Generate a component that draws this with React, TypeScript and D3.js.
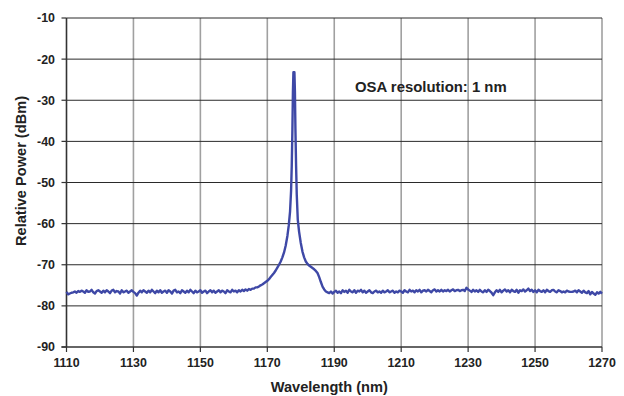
import React from "react";
import * as d3 from "d3";

const xTicks = [1110, 1130, 1150, 1170, 1190, 1210, 1230, 1250, 1270];
const yTicks = [-10, -20, -30, -40, -50, -60, -70, -80, -90];

// baseline left of the peak: 1110 .. 1167 nm, 0.5 nm step
const leftStart = 1110;
const leftBaseline = [
  -76.6, -77.2, -77.0, -76.8, -76.7, -76.5, -76.8, -76.4, -76.6, -76.3,
  -76.5, -76.8, -76.2, -76.6, -76.5, -76.1, -76.7, -77.0, -76.4, -76.2,
  -76.5, -76.8, -76.3, -76.7, -76.2, -76.5, -76.9, -76.3, -76.1, -76.7,
  -76.4, -76.5, -77.0, -76.2, -76.7, -76.5, -76.3, -76.8, -76.5, -76.2,
  -76.6, -76.9, -77.5, -76.8, -76.3, -76.7, -76.2, -76.5, -76.8, -76.3,
  -76.7, -76.1, -76.5, -76.9, -76.3, -76.7, -76.2, -76.8, -76.5, -76.3,
  -76.8, -76.2, -76.5, -77.0, -76.3, -76.1, -76.7, -76.5, -76.9, -76.2,
  -76.5, -76.8, -76.3, -76.7, -76.1, -76.5, -76.9, -76.3, -76.7, -76.5,
  -76.2, -76.8, -76.5, -76.3, -76.9, -76.5, -76.2, -76.7, -76.3, -76.8,
  -76.5, -76.2, -76.7, -76.3, -76.5, -76.9, -76.2, -76.5, -76.7, -76.1,
  -76.5, -76.3, -76.7, -76.2, -76.5, -76.1, -76.4, -76.0, -76.3, -75.9,
  -76.1, -75.8, -75.8, -75.5, -75.5,
];

// peak region [wavelength nm, dBm]
const peakPoints: [number, number][] = [
  [1167.5, -75.3], [1168, -75.0], [1168.5, -74.8], [1169, -74.5], [1169.5, -74.2],
  [1170, -73.9], [1170.5, -73.5], [1171, -73.0], [1171.5, -72.5], [1172, -72.0],
  [1172.5, -71.4], [1173, -70.7], [1173.5, -70.0], [1174, -69.2], [1174.5, -68.2],
  [1175, -67.0], [1175.5, -65.3], [1176, -63.0], [1176.4, -60.5], [1176.8, -57.0],
  [1177.1, -52.0], [1177.3, -46.0], [1177.5, -37.0], [1177.65, -28.0], [1177.8, -23.2],
  [1178.1, -23.2], [1178.25, -28.0], [1178.4, -37.0], [1178.6, -46.0], [1178.8, -53.0],
  [1179.1, -59.0], [1179.5, -62.0], [1180, -64.7], [1180.5, -66.8], [1181, -68.2],
  [1181.5, -69.2], [1182, -69.8], [1182.5, -70.2], [1183, -70.5], [1183.5, -70.8],
  [1184, -71.1], [1184.5, -71.5], [1185, -72.0], [1185.5, -73.0], [1186, -74.2],
  [1186.5, -75.3], [1187, -76.0], [1187.5, -76.5], [1188, -76.7],
];

// baseline right of the peak: 1188.5 .. 1270 nm, 0.5 nm step
const rightStart = 1188.5;
const rightBaseline = [
  -76.9, -76.5, -77.0, -76.6, -76.3, -76.8, -76.5, -76.9, -76.2, -76.6,
  -76.3, -76.8, -76.1, -76.5, -76.7, -76.2, -76.8, -76.3, -76.5, -76.1,
  -76.7, -76.3, -76.8, -76.5, -76.2, -76.7, -76.9, -76.5, -76.3, -76.7,
  -76.5, -76.8, -76.3, -76.7, -76.5, -76.2, -76.7, -76.5, -76.3, -76.8,
  -76.5, -76.7, -76.3, -76.5, -76.8, -76.2, -76.5, -76.7, -76.1, -76.5,
  -76.3, -76.7, -76.2, -76.5, -76.1, -76.7, -76.3, -76.2, -76.5, -76.1,
  -76.4, -76.7, -76.2, -76.0, -76.5, -76.2, -76.5, -76.1, -76.5, -76.2,
  -76.4, -76.1, -76.5, -76.2, -76.0, -76.4, -76.2, -76.1, -76.4, -76.2,
  -76.1, -76.4, -75.6, -76.0, -76.3, -76.6, -76.1, -76.5, -76.2, -76.6,
  -76.1, -76.5, -76.7, -76.2, -76.6, -76.1, -76.4, -76.8, -77.4, -76.7,
  -76.2, -76.6, -76.1, -76.7, -76.3, -76.0, -76.5, -76.2, -76.7, -76.1,
  -76.4, -76.6, -76.1, -76.8, -76.2, -76.4, -76.0, -76.5, -76.2, -75.8,
  -76.4, -76.1, -76.6, -76.2, -76.7, -76.1, -76.4, -76.6, -76.2, -76.7,
  -76.1, -76.4, -76.6, -76.2, -76.1, -76.5, -76.7, -76.2, -76.4, -76.7,
  -76.5, -76.7, -76.3, -76.5, -76.6, -76.6, -76.5, -76.3, -76.7, -76.2,
  -76.5, -76.8, -76.3, -76.7, -76.9, -76.4, -77.2, -76.6, -77.0, -77.3,
  -76.7, -77.0, -76.6, -77.0,
];

const annotation = "OSA resolution: 1 nm";
const xTitle = "Wavelength (nm)";
const yTitle = "Relative Power (dBm)";

const W = 624;
const H = 396;
const FONT = "'Liberation Sans', Arial, Helvetica, sans-serif";

export default function App() {
  const x = d3.scaleLinear().domain([1110, 1270]).range([66.5, 602]);
  const y = d3.scaleLinear().domain([-90, -10]).range([347, 18]);

  const data: [number, number][] = [
    ...leftBaseline.map((v, i) => [leftStart + i * 0.5, v] as [number, number]),
    ...peakPoints,
    ...rightBaseline.map((v, i) => [rightStart + i * 0.5, v] as [number, number]),
  ];

  const line = d3
    .line<[number, number]>()
    .x((d) => x(d[0]))
    .y((d) => y(d[1]));

  const [x0, x1] = x.range();
  const [yb, yt] = y.range();

  return (
    <svg
      width={W}
      height={H}
      style={{ position: "absolute", left: 0, top: 0, background: "#fff" }}
    >
      {/* vertical grid */}
      {xTicks.slice(1).map((t) => (
        <line
          key={"vx" + t}
          x1={x(t)}
          x2={x(t)}
          y1={yt}
          y2={yb}
          stroke="#a0a0a0"
          strokeWidth={1.6}
        />
      ))}
      {/* horizontal grid */}
      {yTicks.slice(0, -1).map((t) => (
        <line
          key={"hy" + t}
          x1={x0}
          x2={x1}
          y1={y(t)}
          y2={y(t)}
          stroke="#2a2a2a"
          strokeWidth={1}
        />
      ))}
      {/* axes */}
      <line x1={x0} x2={x0} y1={yt} y2={yb} stroke="#333" strokeWidth={1.6} />
      <line x1={x0 - 5} x2={x1} y1={yb} y2={yb} stroke="#333" strokeWidth={1.6} />
      {yTicks.map((t) => (
        <line key={"ty" + t} x1={x0 - 5} x2={x0} y1={y(t)} y2={y(t)} stroke="#333" strokeWidth={1.2} />
      ))}
      {xTicks.map((t) => (
        <line key={"tx" + t} x1={x(t)} x2={x(t)} y1={yb} y2={yb + 5} stroke="#333" strokeWidth={1.2} />
      ))}
      {/* tick labels */}
      {yTicks.map((t) => (
        <text
          key={"ly" + t}
          x={55}
          y={y(t)}
          dy="0.36em"
          textAnchor="end"
          fontFamily={FONT}
          fontWeight="bold"
          fontSize={12.4}
          fill="#222"
        >
          {t}
        </text>
      ))}
      {xTicks.map((t) => (
        <text
          key={"lx" + t}
          x={x(t)}
          y={367}
          textAnchor="middle"
          fontFamily={FONT}
          fontWeight="bold"
          fontSize={12.4}
          fill="#222"
        >
          {t}
        </text>
      ))}
      {/* titles */}
      <text
        x={(x0 + x1) / 2 - 5}
        y={392}
        textAnchor="middle"
        fontFamily={FONT}
        fontWeight="bold"
        fontSize={14.6}
        fill="#222"
      >
        {xTitle}
      </text>
      <text
        transform={`translate(26,171) rotate(-90)`}
        textAnchor="middle"
        fontFamily={FONT}
        fontWeight="bold"
        fontSize={14.6}
        fill="#222"
      >
        {yTitle}
      </text>
      <text
        x={355}
        y={92}
        fontFamily={FONT}
        fontWeight="bold"
        fontSize={14.9}
        fill="#222"
      >
        {annotation}
      </text>
      {/* data line */}
      <path
        d={line(data) || ""}
        fill="none"
        stroke="#3e48a6"
        strokeWidth={2.4}
        strokeLinejoin="round"
      />
    </svg>
  );
}
